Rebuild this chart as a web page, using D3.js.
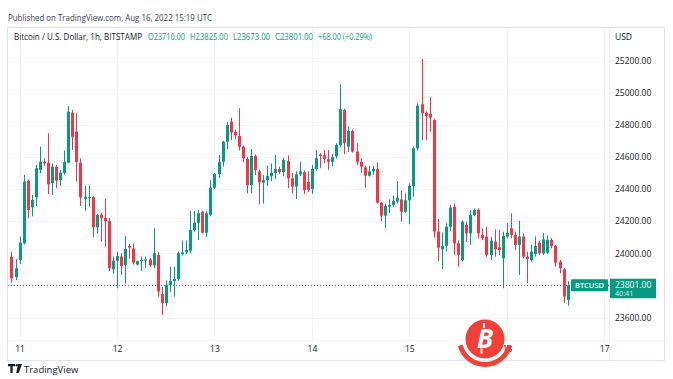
<!DOCTYPE html>
<html><head><meta charset="utf-8">
<script src="https://cdn.jsdelivr.net/npm/d3@7"></script>
<style>body{margin:0;background:#fff}svg{display:block}text{font-family:"Open Sans",sans-serif}</style>
</head><body><svg id="c" width="673" height="379"></svg>
<script>
// ---- data (hourly candles, BITSTAMP BTC/USD, first candle Aug 10 22:00 UTC) ----
const startTime = "2022-08-10T22:00:00Z";
const open  = [23979,23851,23958,24062,24450,24286,24349,24519,24570,24564,24436,24539,24456,24500,24564,24876,24757,24564,24340,24345,24349,24162,24240,24220,24200,23900,23954,23980,23927,24045,24030,23930,23950,23955,23962,23925,23990,23747,23689,23803,23827,23840,23995,24005,24016,24145,24190,24259,24128,24240,24409,24494,24570,24695,24820,24755,24730,24664,24587,24425,24606,24510,24440,24455,24480,24500,24525,24505,24575,24467,24415,24492,24505,24445,24400,24525,24615,24610,24585,24570,24605,24674,24892,24664,24762,24633,24570,24535,24483,24510,24525,24315,24234,24290,24300,24322,24335,24259,24330,24419,24654,24928,24875,24870,24830,24135,24025,24047,24166,24290,24062,23958,24176,24124,24238,24270,24114,24104,23990,24073,24037,23969,24104,24155,24114,24052,24104,23979,23958,23996,24066,24000,24004,24083,24046,23948,23900,23710];
const high  = [24010,23963,24103,24488,24460,24363,24550,24664,24590,24747,24560,24550,24520,24640,24917,24892,24872,24590,24420,24420,24355,24245,24250,24342,24220,23980,24010,24000,24108,24060,24060,23955,23980,23980,23970,24156,24010,23790,23830,23917,23917,24010,24080,24080,24263,24263,24270,24262,24262,24456,24500,24612,24700,24820,24845,24770,24903,24670,24600,24649,24615,24520,24488,24545,24560,24612,24540,24595,24610,24500,24510,24570,24515,24510,24550,24643,24625,24643,24643,24620,24685,25052,24900,24790,24770,24685,24590,24545,24545,24545,24567,24320,24310,24335,24360,24450,24390,24372,24435,24665,24934,25210,24885,24975,24838,24214,24130,24187,24300,24310,24080,24205,24197,24270,24280,24280,24155,24166,24104,24149,24145,24135,24187,24249,24135,24203,24124,24010,24052,24104,24079,24124,24110,24095,24052,23958,23907,23825];
const low   = [23817,23834,23933,24055,24218,24230,24294,24498,24545,24369,24363,24405,24420,24490,24560,24643,24446,24294,24265,24290,24100,24124,24072,24041,23890,23875,23782,23865,23813,23965,23930,23925,23890,23910,23915,23907,23730,23616,23670,23760,23730,23830,23985,23995,24000,24135,24083,24124,24100,24230,24400,24470,24540,24650,24705,24710,24640,24567,24374,24374,24488,24305,24310,24420,24450,24460,24495,24480,24405,24374,24338,24480,24370,24380,24370,24515,24530,24560,24520,24540,24590,24660,24617,24630,24627,24550,24500,24409,24478,24490,24310,24201,24159,24250,24290,24310,24197,24250,24180,24352,24640,24705,24705,24757,24097,23952,23902,24010,24140,23990,23917,23950,24070,24052,24230,24093,24083,23979,23958,23979,23990,23782,24093,24093,24021,23865,23969,23813,23948,23979,23990,23990,23995,24030,23917,23875,23689,23673];
const close = [23844,23907,24066,24446,24270,24332,24529,24570,24560,24429,24539,24452,24502,24570,24882,24726,24570,24349,24352,24350,24162,24238,24218,24200,23907,23954,23983,23920,24027,24035,23942,23950,23958,23962,23925,24000,23761,23689,23803,23827,23840,24000,24005,24020,24145,24190,24249,24128,24249,24409,24494,24570,24695,24799,24753,24735,24664,24592,24425,24606,24519,24442,24455,24480,24500,24525,24505,24581,24467,24415,24492,24510,24394,24395,24525,24592,24605,24588,24570,24598,24674,24897,24685,24762,24633,24570,24540,24483,24510,24525,24315,24234,24296,24300,24325,24346,24259,24330,24419,24654,24919,24872,24855,24845,24135,24035,24047,24166,24285,24062,23990,24197,24124,24238,24270,24124,24093,23990,24079,24025,24021,24108,24128,24114,24052,24104,23979,23965,24010,24046,24000,24087,24083,24046,23942,23907,23731,23801];
const dayTicks   = ["2022-08-11","2022-08-12","2022-08-13","2022-08-14","2022-08-15","2022-08-16","2022-08-17"];
const priceTicks = [23600,23800,24000,24200,24400,24600,24800,25000,25200];
const lastPrice = 23801;
const countdown = "40:41";
const symbol = "BTCUSD";
const headerText = "Published on TradingView.com, Aug 16, 2022 15:19 UTC";
const titleText = "Bitcoin / U.S. Dollar, 1h, BITSTAMP";
const legendItems = ["O23710.00","H23825.00","L23673.00","C23801.00","+68.00 (+0.29%)"];

// ---- drawing ----
const UP = "#089981", DOWN = "#f23645", GRID = "#f0f3fa", BORDER = "#e0e3eb", TXT = "#131722";
const svg = d3.select("#c");
const pane = {l: 8, r: 609, t: 28, b: 340};
const t0 = new Date(startTime);
const times = open.map((_, i) => d3.utcHour.offset(t0, i));
const x = d3.scaleUtc().domain([new Date("2022-08-11T00:00:00Z"), new Date("2022-08-17T00:00:00Z")]).range([19.6, 604.2]);
const y = d3.scaleLinear().domain([23600, 25200]).range([317.5, 60.6]);

svg.append("rect").attr("width",673).attr("height",379).attr("fill","#fff");
svg.append("defs").append("clipPath").attr("id","pc").append("rect")
  .attr("x",pane.l).attr("y",pane.t).attr("width",pane.r-pane.l).attr("height",pane.b-pane.t);

// gridlines
const dayDates = dayTicks.map(d => new Date(d + "T00:00:00Z"));
svg.append("g").attr("clip-path","url(#pc)").selectAll("line.v").data(dayDates).join("line")
  .attr("x1", d => Math.round(x(d))+0.5).attr("x2", d => Math.round(x(d))+0.5)
  .attr("y1", pane.t).attr("y2", pane.b).attr("stroke", GRID);
svg.append("g").selectAll("line.h").data(priceTicks).join("line")
  .attr("x1", pane.l).attr("x2", pane.r)
  .attr("y1", d => Math.round(y(d))+0.5).attr("y2", d => Math.round(y(d))+0.5).attr("stroke", GRID);

// frame
svg.append("rect").attr("x",7.5).attr("y",27.5).attr("width",657).attr("height",333)
  .attr("fill","none").attr("stroke",BORDER);
svg.append("line").attr("x1",pane.r+0.5).attr("x2",pane.r+0.5).attr("y1",28).attr("y2",361).attr("stroke","#eef0f5");
svg.append("line").attr("x1",8).attr("x2",665).attr("y1",pane.b+0.5).attr("y2",pane.b+0.5).attr("stroke","#f3f4f8");

// candles
const cg = svg.append("g").attr("clip-path","url(#pc)");
const data = times.map((t,i) => ({t, o:open[i], h:high[i], l:low[i], c:close[i]}));
const col = d => d.c >= d.o ? UP : DOWN;
cg.selectAll("line.w").data(data).join("line")
  .attr("x1", d => Math.round(x(d.t))+0.5).attr("x2", d => Math.round(x(d.t))+0.5)
  .attr("y1", d => y(d.h)).attr("y2", d => y(d.l)).attr("stroke", col).attr("stroke-width",1);
cg.selectAll("rect.b").data(data).join("rect")
  .attr("x", d => Math.round(x(d.t))-1).attr("width", 3)
  .attr("y", d => y(Math.max(d.o,d.c)))
  .attr("height", d => Math.max(1, Math.abs(y(d.o)-y(d.c))))
  .attr("fill", col);

// last price dotted line
svg.append("line").attr("x1",pane.l).attr("x2",pane.r)
  .attr("y1", Math.round(y(lastPrice))+0.5).attr("y2", Math.round(y(lastPrice))+0.5)
  .attr("stroke", UP).attr("stroke-dasharray","1,2");

// price axis (the 23800 label is hidden behind the last-price box in the reference)
const ly = y(lastPrice);
const shownTicks = priceTicks.filter(p => Math.abs(y(p) - ly) > 12);
const ay = svg.append("g").attr("transform",`translate(${pane.r},0)`)
  .call(d3.axisRight(y).tickValues(shownTicks).tickFormat(d3.format(".2f")).tickSize(0).tickPadding(6));
ay.select(".domain").remove();
ay.selectAll("text").attr("font-family","Open Sans").attr("font-size",8.5).attr("fill",TXT);
svg.append("text").attr("x",615).attr("y",40).attr("font-size",8.5).attr("fill",TXT).text("USD");

// time axis
const ax = svg.append("g").attr("transform",`translate(0,${pane.b})`)
  .call(d3.axisBottom(x).tickValues(dayDates).tickFormat(d => d.getUTCDate()).tickSize(0).tickPadding(6));
ax.select(".domain").remove();
ax.selectAll("text").attr("font-family","Open Sans").attr("font-size",8.5).attr("fill",TXT);

// symbol and price labels
svg.append("rect").attr("x",571).attr("y",ly-6).attr("width",37).attr("height",12).attr("rx",1).attr("fill",UP);
svg.append("text").attr("x",589.5).attr("y",ly+3).attr("text-anchor","middle").attr("font-size",7.5)
  .attr("font-weight",600).attr("fill","#fff").text(symbol);
svg.append("rect").attr("x",610).attr("y",ly-6.5).attr("width",46).attr("height",19.5).attr("fill",UP);
svg.append("text").attr("x",615).attr("y",ly+2.5).attr("font-size",8.5).attr("fill","#fff").text(d3.format(".2f")(lastPrice));
svg.append("text").attr("x",615).attr("y",ly+11).attr("font-size",7.2).attr("fill","#fff").attr("opacity",0.85).text(countdown);

// header
svg.append("text").attr("x",8).attr("y",21).attr("font-family","Lato").attr("font-size",9)
  .attr("textLength",204).attr("lengthAdjust","spacingAndGlyphs").attr("fill","#3a3e4a").text(headerText);
svg.append("text").attr("x",14).attr("y",40).attr("font-size",8.3)
  .attr("textLength",128).attr("lengthAdjust","spacingAndGlyphs").attr("fill",TXT).text(titleText);
const legendX = [148,190,233,275,318];
const legendW = [37,38,37,38,54];
legendItems.forEach((s,i) => svg.append("text").attr("x",legendX[i]).attr("y",40).attr("font-size",8.3)
  .attr("textLength",legendW[i]).attr("lengthAdjust","spacingAndGlyphs").attr("fill",UP).text(s));

// watermark
const wm = svg.append("g").attr("transform","translate(485,339)");
wm.append("circle").attr("r",19.5).attr("fill","#ef4137");
wm.append("path").attr("d", d3.arc().innerRadius(23).outerRadius(28).startAngle(Math.PI*0.58).endAngle(Math.PI*1.42)()).attr("fill","#ef4137");
wm.append("text").attr("x",0).attr("y",9).attr("text-anchor","middle").attr("font-family","Liberation Serif")
  .attr("font-weight","bold").attr("font-style","italic").attr("font-size",26).attr("fill","#fff").text("B");
wm.append("rect").attr("x",-2).attr("y",-16).attr("width",2).attr("height",5).attr("fill","#fff");
wm.append("rect").attr("x",-4.5).attr("y",9.5).attr("width",2).attr("height",5).attr("fill","#fff");

// TradingView footer
const tv = svg.append("g").attr("transform","translate(8,364)");
tv.append("path").attr("d","M0,0H7V2.2H4.6V9H2.4V2.2H0Z").attr("fill",TXT);
tv.append("circle").attr("cx",8.8).attr("cy",1.2).attr("r",1.2).attr("fill",TXT);
tv.append("path").attr("d","M10.2,0H14L10.6,9H8.2Z").attr("fill",TXT);
svg.append("text").attr("x",24).attr("y",373).attr("font-size",9.5).attr("fill",TXT).text("TradingView");
</script></body></html>
